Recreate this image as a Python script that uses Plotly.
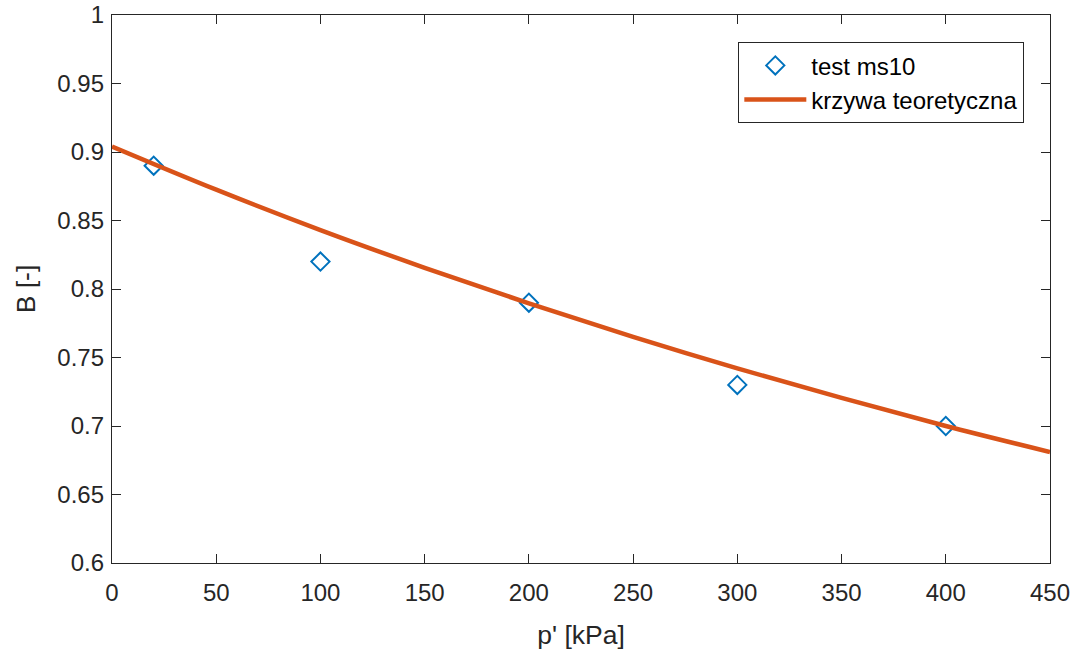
import plotly.graph_objects as go

# Measured pore pressure coefficient B for sample ms10
test_p = [20, 100, 200, 300, 400]
test_B = [0.89, 0.82, 0.79, 0.73, 0.70]

# Theoretical B(p') curve
curve_p = [0, 50, 100, 150, 200, 250, 300, 350, 400, 450]
curve_B = [0.904, 0.8725, 0.843, 0.8155, 0.7895, 0.765, 0.742, 0.7205, 0.700, 0.681]

x_ticks = [0, 50, 100, 150, 200, 250, 300, 350, 400, 450]
y_ticks = [0.6, 0.65, 0.7, 0.75, 0.8, 0.85, 0.9, 0.95, 1]

FONT = "Liberation Sans, Arial, Helvetica, sans-serif"
INK = "#262626"

fig = go.Figure()
fig.add_trace(go.Scatter(
    x=test_p, y=test_B, mode="markers", name="test ms10",
    marker=dict(symbol="diamond-open", size=14, color="#0072BD",
                line=dict(width=2, color="#0072BD")),
))
fig.add_trace(go.Scatter(
    x=curve_p, y=curve_B, mode="lines", name="krzywa teoretyczna",
    line=dict(color="#D95319", width=4.5, shape="spline", smoothing=1.0),
))

axis_common = dict(
    showline=True, linecolor=INK, linewidth=1.3, mirror="ticks",
    ticks="inside", ticklen=9, tickwidth=1.3, tickcolor=INK,
    showgrid=False, zeroline=False, automargin=False,
    tickfont=dict(family=FONT, size=24, color=INK),
)

fig.update_layout(
    width=1076, height=650,
    margin=dict(l=112, r=26, t=15, b=87),
    paper_bgcolor="white", plot_bgcolor="white",
    font=dict(family=FONT, color=INK),
    xaxis=dict(range=[0, 450], tickvals=x_ticks, ticklabelstandoff=8,
               title=dict(text="p' [kPa]", font=dict(family=FONT, size=26.5, color=INK), standoff=22),
               **axis_common),
    yaxis=dict(range=[0.6, 1], tickvals=y_ticks, ticklabelstandoff=2,
               title=dict(text="B [-]", font=dict(family=FONT, size=26.5, color=INK), standoff=14),
               **axis_common),
    legend=dict(
        x=0.9723, y=0.9507, xanchor="right", yanchor="top",
        bgcolor="white", bordercolor=INK, borderwidth=1.3,
        font=dict(family=FONT, size=24, color="black"),
        tracegroupgap=0, itemwidth=62,
    ),
)

fig.write_html("out.html")
